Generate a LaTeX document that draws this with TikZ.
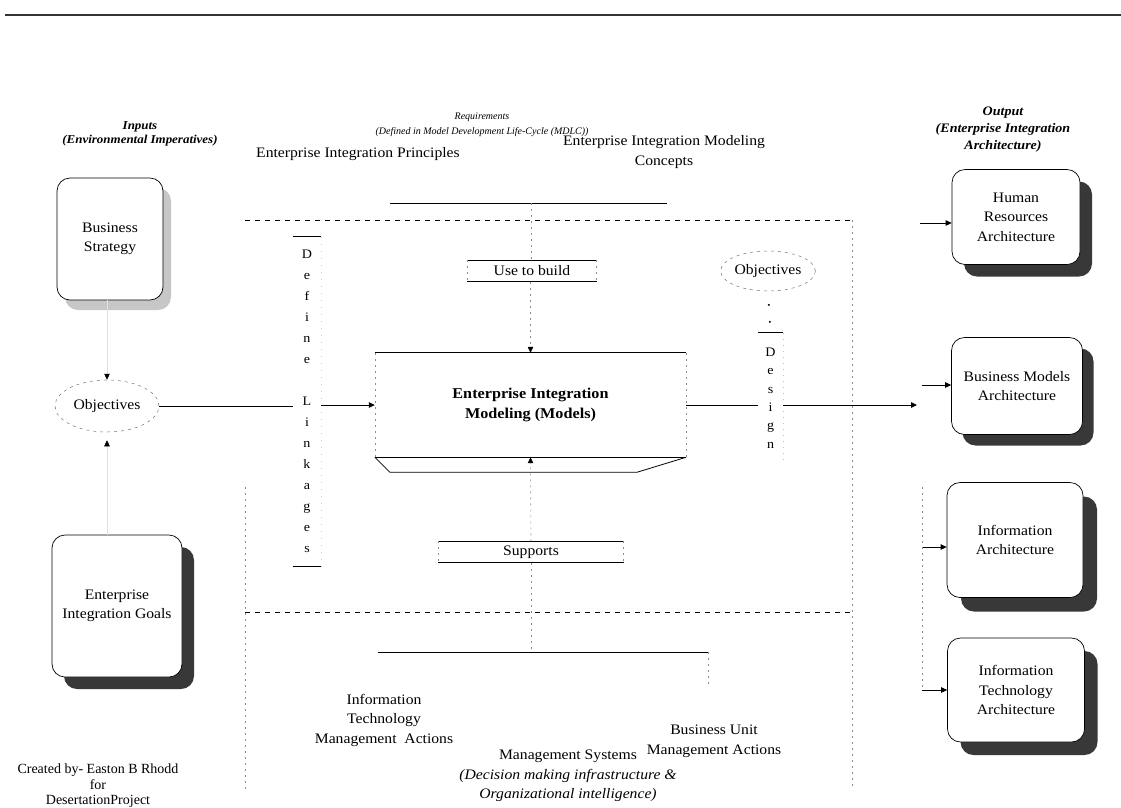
\documentclass[tikz,border=0pt]{standalone}
\usepackage{fontspec}
\setmainfont{Liberation Serif}[FakeStretch=1.08]
\newfontfamily\tightserif{Liberation Serif}
\usetikzlibrary{arrows.meta,shadows,shapes.geometric,calc}

\begin{document}
\begin{tikzpicture}[x=1pt,y=-1pt,
  every node/.style={inner sep=0pt},
  body/.style={font=\fontsize{14.5}{19.5}\selectfont, align=center},
  hdrit/.style={font=\tightserif\fontsize{10}{15}\selectfont\itshape, align=center},
  hdrbf/.style={font=\fontsize{12}{14}\selectfont\bfseries\itshape, align=center},
  outhdr/.style={font=\fontsize{13}{17}\selectfont\bfseries\itshape, align=center},
  lettersA/.style={font=\fontsize{13}{21}\selectfont, align=center},
  lettersB/.style={font=\fontsize{13}{18.4}\selectfont, align=center},
  tip/.style={-{Triangle[length=6pt,width=5.5pt,color=black]}},
  faint/.style={draw=black!45, dash pattern=on 2pt off 4pt, line width=0.6pt},
  ghost/.style={draw=black!12, line width=0.5pt},
  frame/.style={dash pattern=on 5pt off 5pt, line width=0.8pt},
  solid rule/.style={line width=0.9pt},
  card/.style={body, draw=black, line width=0.7pt, fill=white, rounded corners=13pt},
  hardshadow/.style={drop shadow={shadow xshift=#1, shadow yshift=-#1, fill=black!78, opacity=1}},
  softshadow/.style={drop shadow={shadow xshift=8pt, shadow yshift=-10pt, fill=black!22, opacity=1}},
  oval/.style={body, ellipse, draw=black!55, dash pattern=on 3pt off 4pt, line width=0.5pt}
]
\useasboundingbox (0,0) rectangle (1121,807);

% rule across the top of the page
\draw[line width=1.2pt, black!80] (5,15) -- (1121,15);

% column headings
\node[hdrbf] (hin) at (140,134) {Inputs\\(Environmental Imperatives)};
\node[hdrit] (hreq) at (482,125) {Requirements\\(Defined in Model Development Life-Cycle (MDLC))};
\node[outhdr] (hout) at (1003,130) {Output\\(Enterprise Integration\\Architecture)};

\node[body] (eip) at (358,154) {Enterprise Integration Principles};
\node[body] (eimc) at (664,152) {Enterprise Integration Modeling\\Concepts};
\draw[solid rule] (390,203) -- (667,203);
\coordinate (req) at (531,203);

% dashed frame around the modelling core
\draw[frame] (245,220) -- (852,220);
\draw[frame] (245,612) -- (852,612);
\draw[faint] (852,220) -- (852,790);
\draw[faint] (245,487) -- (245,790);

% inputs
\node[card, softshadow, minimum width=106pt, minimum height=122pt] (bs) at (110,239) {Business\\Strategy};
\node[card, hardshadow=12pt, minimum width=130pt, minimum height=142pt] (goals) at (117,606) {Enterprise\\Integration Goals};
\node[oval, minimum width=104pt, minimum height=52pt] (obj1) at (107,406) {Objectives};
\draw[ghost, tip] (obj1.north |- bs.south) -- (obj1.north);
\draw[ghost, tip, shorten >=8pt] (obj1.south |- goals.north) -- (obj1.south);

% define linkages column
\node[lettersA, minimum width=28pt, minimum height=329pt] (dl) at (307,401.5)
  {D\\e\\f\\i\\n\\e\\[21pt]L\\i\\n\\k\\a\\g\\e\\s};
\draw[solid rule] (dl.north west) -- (dl.north east);
\draw[solid rule] (dl.south west) -- (dl.south east);
\draw[draw=black!20, dash pattern=on 1pt off 6pt] (dl.north east) -- (dl.south east);

% central model
\node[body, font=\fontsize{15}{20}\selectfont\bfseries, minimum width=311pt, minimum height=104pt] (eim) at (530.5,405)
  {Enterprise Integration\\Modeling (Models)};
\draw[solid rule] (eim.north west) -- (eim.north east);
\draw[solid rule] (eim.south west) -- (eim.south east);
\draw[faint] (eim.north west) -- (eim.south west);
\draw[faint] (eim.north east) -- (eim.south east);
\draw[line width=0.8pt] (eim.south west) -- ++(15,15) -- ($(eim.south east)+(-49,15)$) -- (eim.south east);

\draw[line width=0.8pt] (obj1.east) -- (obj1.east -| dl.west);
\draw[line width=0.8pt, tip] (dl.east |- eim.west) -- (eim.west);

% use to build
\node[body, minimum width=129pt, minimum height=21pt] (utb) at (532,271) {Use to build};
\draw[solid rule] (utb.north west) -- (utb.north east);
\draw[solid rule] (utb.south west) -- (utb.south east);
\draw[faint] (utb.north west) -- (utb.south west);
\draw[faint] (utb.north east) -- (utb.south east);
\draw[faint] (req) -- (req |- utb.north);
\draw[faint, tip] (utb.south -| eim.north) -- (eim.north);

% supports
\node[body, minimum width=185pt, minimum height=21pt] (sup) at (531,552) {Supports};
\draw[solid rule] (sup.north west) -- (sup.north east);
\draw[solid rule] (sup.south west) -- (sup.south east);
\draw[faint] (sup.north west) -- (sup.south west);
\draw[faint] (sup.north east) -- (sup.south east);
\draw[faint, tip] (sup.north) -- (eim.south);
\coordinate (br) at (531,652);
\draw[faint] (sup.south) -- (br);
\draw[solid rule] (378,652) -- (708,652);
\draw[faint] (708,652) -- (708,684);

% management actions
\node[body] (itma) at (384,720) {Information\\Technology\\Management\ \ Actions};
\node[body] (buma) at (714,741) {Business Unit\\Management Actions};
\node[body] (ms) at (568,776) {Management Systems\\\itshape(Decision making infrastructure \&\\\itshape Organizational intelligence)};

% objectives and design
\node[oval, minimum width=94pt, minimum height=40pt] (obj2) at (768,271) {Objectives};
\node[lettersB, minimum width=25pt, minimum height=130pt] (dsg) at (770.5,398) {D\\e\\s\\i\\g\\n};
\draw[solid rule] (dsg.north west) -- (dsg.north east);
\draw[draw=black!25, dash pattern=on 1pt off 5pt] (dsg.north east) -- (dsg.south east);
\draw[line width=2.2pt, line cap=round, dash pattern=on 0pt off 17pt, shorten <=11pt, shorten >=5pt] (dsg.north) -- (obj2.south);

\draw[line width=0.8pt] (eim.east) -- (eim.east -| dsg.west);
\coordinate (bmin) at (917,405);
\draw[line width=0.8pt, tip] (dsg.east |- eim.east) -- (bmin);

% outputs
\node[card, hardshadow=12pt, minimum width=128pt, minimum height=95pt] (hr) at (1016,217) {Human\\Resources\\Architecture};
\node[card, hardshadow=11pt, minimum width=131pt, minimum height=97pt] (bm) at (1017,386) {Business Models\\Architecture};
\node[card, hardshadow=14pt, minimum width=136pt, minimum height=115pt] (ia) at (1015,540) {Information\\Architecture};
\node[card, hardshadow=13pt, minimum width=137pt, minimum height=104pt] (it) at (1016,690) {Information\\Technology\\Architecture};

\coordinate (hrs) at (920,223);
\coordinate (bms) at (922,385);
\coordinate (ias) at (922,547);
\coordinate (its) at (922,690);
\draw[line width=0.8pt, tip] (hrs) -- (hrs -| hr.west);
\draw[line width=0.8pt, tip] (bms) -- (bms -| bm.west);
\draw[line width=0.8pt, tip] (ias) -- (ias -| ia.west);
\draw[line width=0.8pt, tip] (its) -- (its -| it.west);
\draw[faint] (922,487) -- (its);

% credit
\node[font=\tightserif\fontsize{14}{15.5}\selectfont, align=center] (credit) at (98,786)
  {Created by- Easton B Rhodd\\for\\DesertationProject};
\end{tikzpicture}
\end{document}
